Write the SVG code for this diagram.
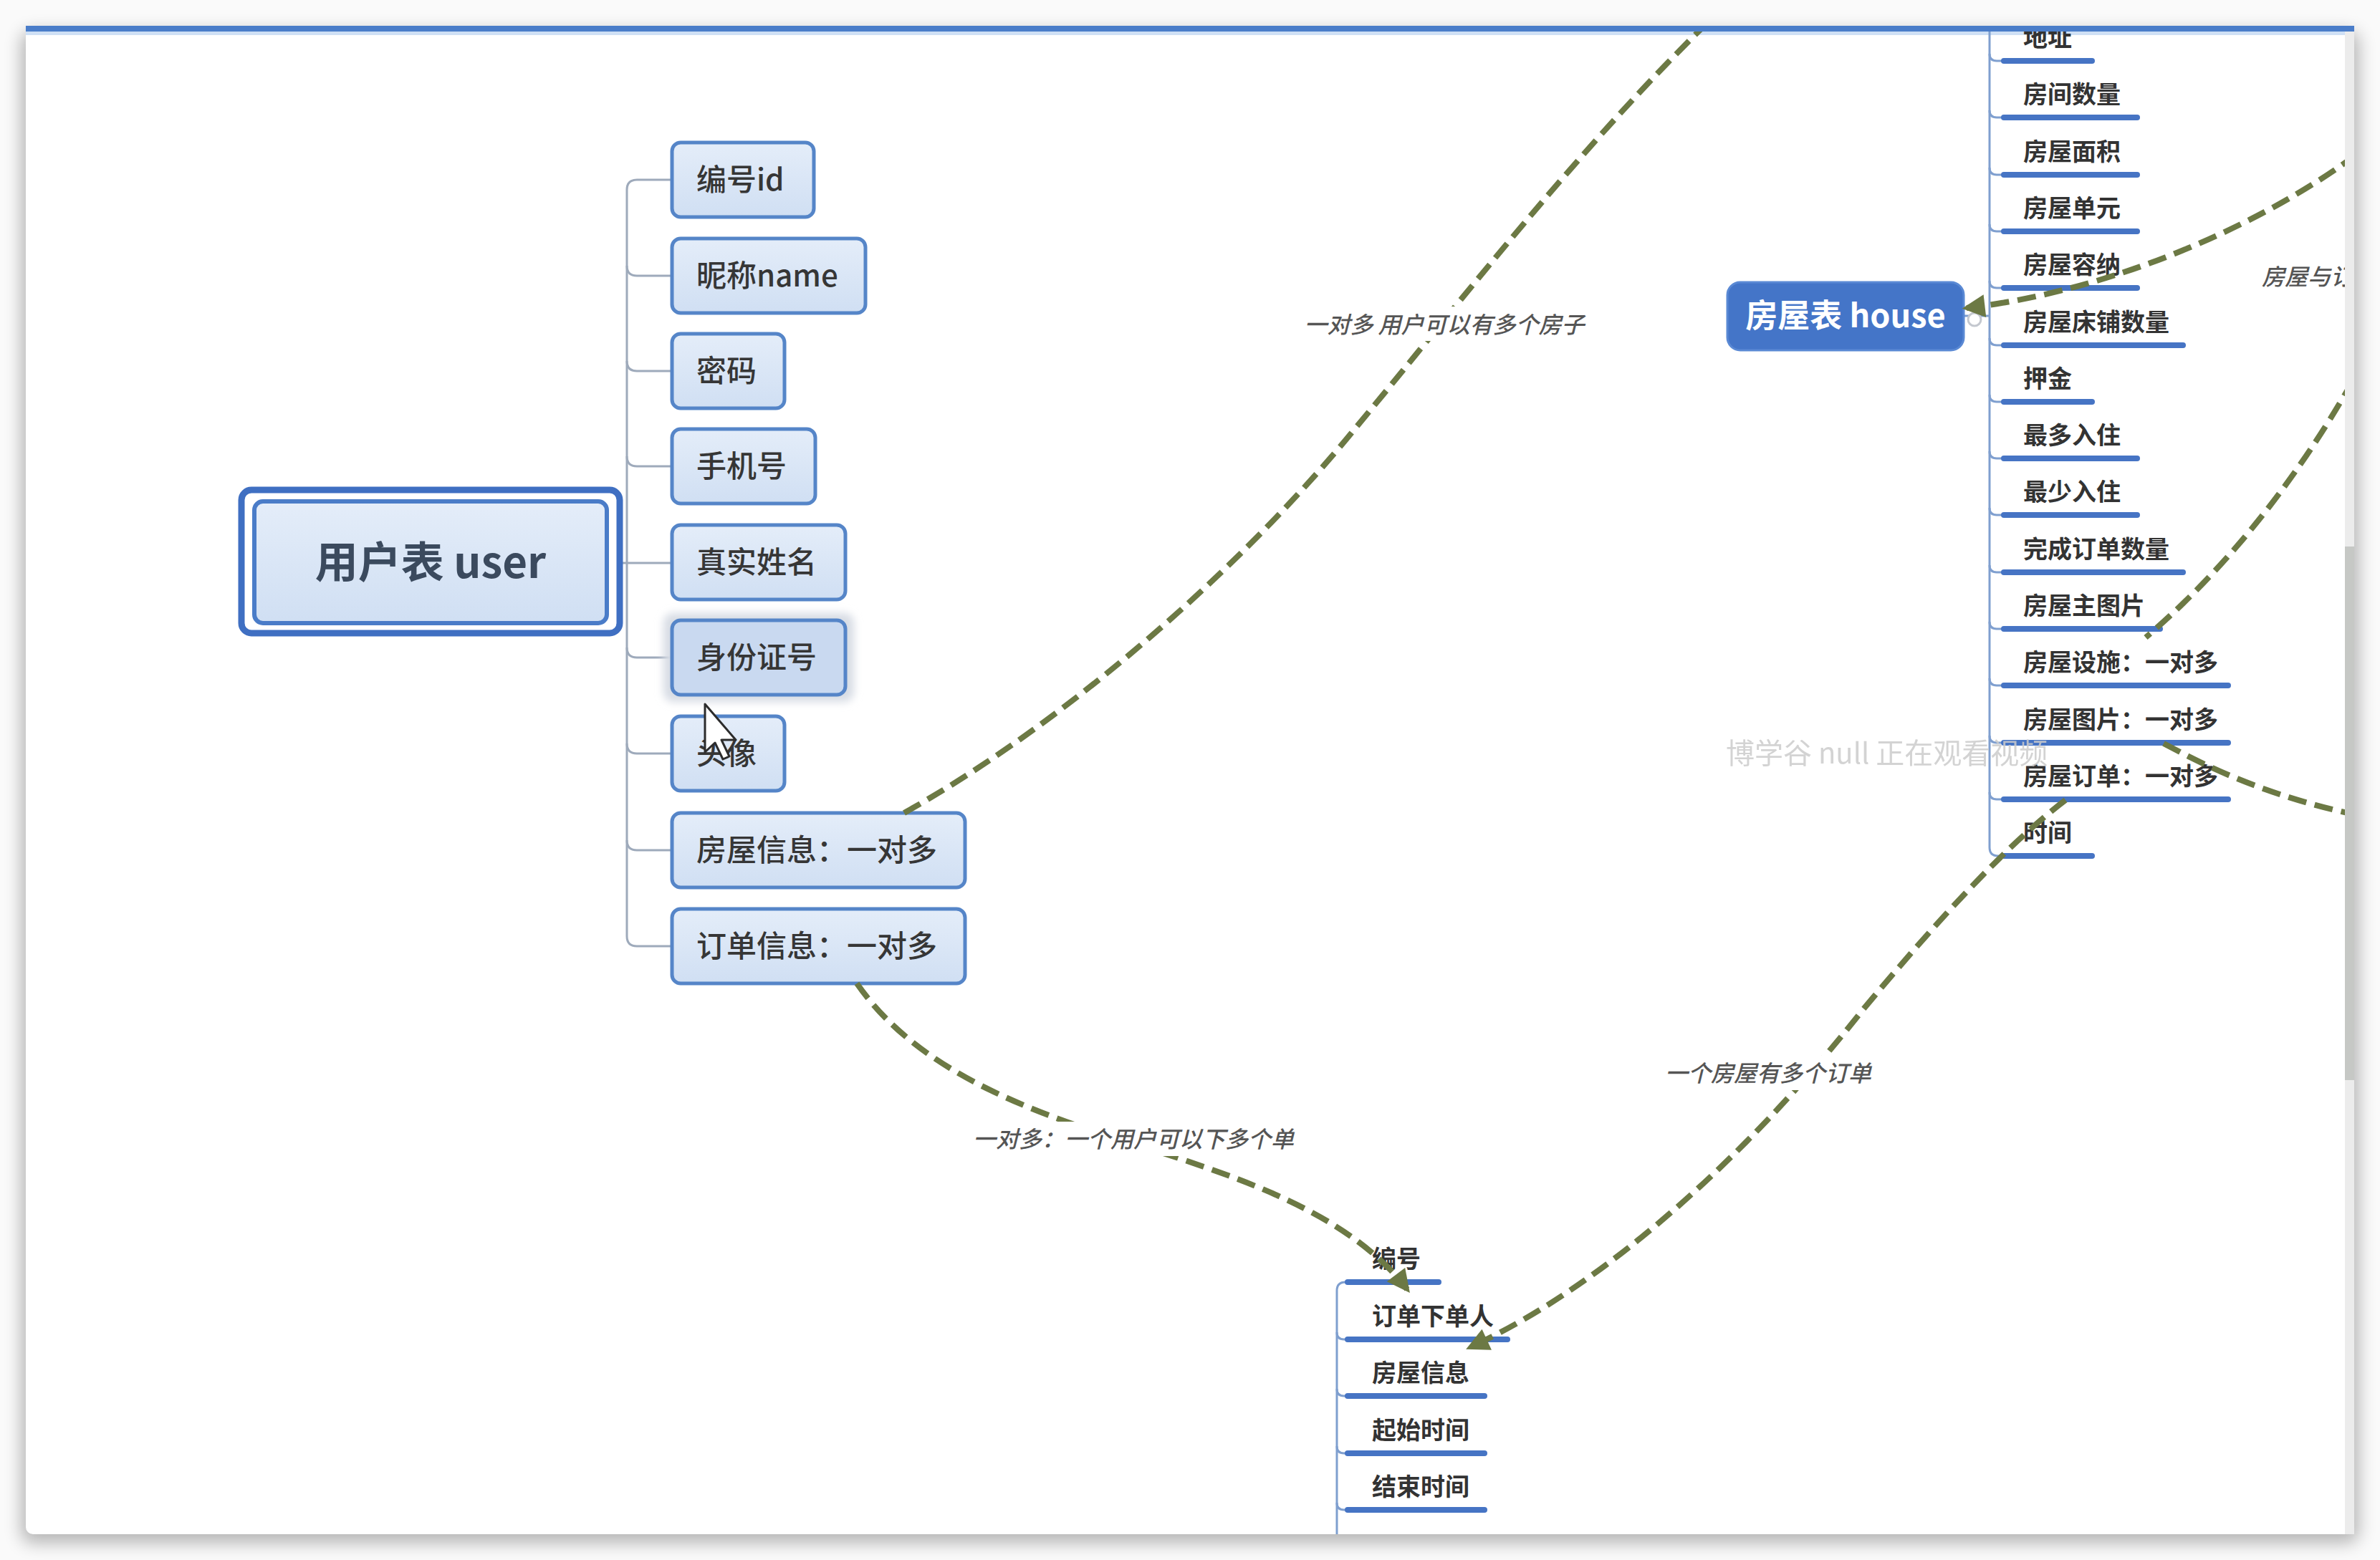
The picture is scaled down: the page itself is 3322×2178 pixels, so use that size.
<svg xmlns="http://www.w3.org/2000/svg" width="3322" height="2178" viewBox="0 0 3322 2178">
<style>
  text { font-family: "Noto Sans CJK SC", "Noto Sans", sans-serif; }
  .tree { fill: none; stroke: #9eaabb; stroke-width: 3; }
  .htree { fill: none; stroke: #7f9fcf; stroke-width: 3; }
  .ubox { fill: url(#ug); stroke: #5585c8; stroke-width: 5; }
  .utxt { font-size: 42px; font-weight: 500; fill: #363636; }
  .ul { stroke: #4674c4; stroke-width: 8; stroke-linecap: round; }
  .ctxt { font-size: 34px; font-weight: 700; fill: #333; }
  .rel { fill: none; stroke: #6c7944; stroke-width: 8; stroke-dasharray: 26 12; }
  .lbl { font-size: 32px; font-style: italic; font-weight: 500; fill: #555555; }
  .lblbg { fill: #ffffff; }
</style>
<defs>
  <linearGradient id="ug" x1="0" y1="0" x2="0" y2="1">
    <stop offset="0" stop-color="#e4edf9"/>
    <stop offset="1" stop-color="#d0dff3"/>
  </linearGradient>
  <filter id="sh" x="-5%" y="-5%" width="110%" height="110%">
    <feGaussianBlur stdDeviation="12"/>
  </filter>
  <filter id="glow" x="-20%" y="-20%" width="140%" height="140%">
    <feGaussianBlur stdDeviation="6"/>
  </filter>
  <marker id="arr" viewBox="0 0 10 10" refX="8" refY="5" markerWidth="34" markerHeight="32" markerUnits="userSpaceOnUse" orient="auto">
    <path d="M0,0 L10,5 L0,10 z" fill="#6c7944"/>
  </marker>
  <clipPath id="win">
    <rect x="36" y="44" width="3237" height="2098"/>
  </clipPath>
</defs>

<!-- window background -->
<rect x="0" y="0" width="3322" height="2178" fill="#fafafa"/>
<rect x="30" y="44" width="3262" height="2110" rx="14" fill="#000" opacity="0.28" filter="url(#sh)"/>
<rect x="36" y="36" width="3250" height="2106" rx="10" fill="#ffffff"/>
<rect x="36" y="36" width="3250" height="8" fill="#4a7dc9"/>
<rect x="36" y="44" width="3237" height="5" fill="#cfe0f5"/>
<rect x="3273" y="44" width="13" height="2098" fill="#ececec"/>
<rect x="3273" y="763" width="13" height="745" fill="#c6c8c5"/>

<g clip-path="url(#win)">
<!-- tree connectors -->
<g id="connectors">
  <path class="tree" d="M866,786 L875,786"/>
  <path class="tree" d="M938,251 L889,251 Q875,251 875,265 L875,1307 Q875,1321 889,1321 L938,1321"/>
  <path class="tree" d="M875,371 Q875,385 889,385 L938,385"/>
  <path class="tree" d="M875,504 Q875,518 889,518 L938,518"/>
  <path class="tree" d="M875,637 Q875,651 889,651 L938,651"/>
  <path class="tree" d="M875,786 L938,786"/>
  <path class="tree" d="M875,904 Q875,918 889,918 L938,918"/>
  <path class="tree" d="M875,1038 Q875,1052 889,1052 L938,1052"/>
  <path class="tree" d="M875,1173 Q875,1187 889,1187 L938,1187"/>

  <path class="htree" d="M2741,441 L2777,441"/>
  <path class="htree" d="M2777,30 L2777,1183 Q2777,1195 2789,1195 L2797,1195"/>
  <path class="htree" d="M2777,75 Q2777,85 2787,85 L2797,85"/>
  <path class="htree" d="M2777,154 Q2777,164 2787,164 L2797,164"/>
  <path class="htree" d="M2777,234 Q2777,244 2787,244 L2797,244"/>
  <path class="htree" d="M2777,313 Q2777,323 2787,323 L2797,323"/>
  <path class="htree" d="M2777,392 Q2777,402 2787,402 L2797,402"/>
  <path class="htree" d="M2777,472 Q2777,482 2787,482 L2797,482"/>
  <path class="htree" d="M2777,551 Q2777,561 2787,561 L2797,561"/>
  <path class="htree" d="M2777,630 Q2777,640 2787,640 L2797,640"/>
  <path class="htree" d="M2777,709 Q2777,719 2787,719 L2797,719"/>
  <path class="htree" d="M2777,789 Q2777,799 2787,799 L2797,799"/>
  <path class="htree" d="M2777,868 Q2777,878 2787,878 L2797,878"/>
  <path class="htree" d="M2777,947 Q2777,957 2787,957 L2797,957"/>
  <path class="htree" d="M2777,1027 Q2777,1037 2787,1037 L2797,1037"/>
  <path class="htree" d="M2777,1106 Q2777,1116 2787,1116 L2797,1116"/>

  <path class="htree" d="M1881,1790 L1878,1790 Q1866,1790 1866,1802 L1866,2160"/>
  <path class="htree" d="M1866,1860 Q1866,1870 1876,1870 L1881,1870"/>
  <path class="htree" d="M1866,1939 Q1866,1949 1876,1949 L1881,1949"/>
  <path class="htree" d="M1866,2019 Q1866,2029 1876,2029 L1881,2029"/>
  <path class="htree" d="M1866,2098 Q1866,2108 1876,2108 L1881,2108"/>
</g>

<!-- user table -->
<g id="user">
  <rect x="337" y="684" width="528" height="200" rx="14" fill="#ffffff" stroke="#3f6fc2" stroke-width="9"/>
  <rect x="355" y="700" width="492" height="170" rx="12" fill="url(#ug)" stroke="#4a7cc8" stroke-width="6"/>
  <text x="601" y="807" text-anchor="middle" font-size="60" font-weight="700" fill="#3b4a5e">用户表 user</text>
</g>
<g id="u-id"><rect class="ubox" x="938" y="199" width="198" height="104" rx="12"/><text class="utxt" x="972" y="266">编号id</text></g>
<g id="u-name"><rect class="ubox" x="938" y="333" width="270" height="104" rx="12"/><text class="utxt" x="972" y="400">昵称name</text></g>
<g id="u-pwd"><rect class="ubox" x="938" y="466" width="157" height="104" rx="12"/><text class="utxt" x="972" y="533">密码</text></g>
<g id="u-phone"><rect class="ubox" x="938" y="599" width="200" height="104" rx="12"/><text class="utxt" x="972" y="666">手机号</text></g>
<g id="u-realname"><rect class="ubox" x="938" y="733" width="242" height="104" rx="12"/><text class="utxt" x="972" y="800">真实姓名</text></g>
<g id="u-idcard">
  <rect x="926" y="856" width="266" height="124" rx="14" fill="#d7dce4" filter="url(#glow)"/>
  <rect class="ubox" x="938" y="866" width="242" height="104" rx="12" style="fill:#c9d9f0"/><text class="utxt" x="972" y="933">身份证号</text></g>
<g id="u-avatar"><rect class="ubox" x="938" y="1000" width="157" height="104" rx="12"/><text class="utxt" x="972" y="1067">头像</text></g>
<g id="u-house"><rect class="ubox" x="938" y="1135" width="409" height="104" rx="12"/><text class="utxt" x="972" y="1202">房屋信息：一对多</text></g>
<g id="u-order"><rect class="ubox" x="938" y="1269" width="409" height="104" rx="12"/><text class="utxt" x="972" y="1336">订单信息：一对多</text></g>

<!-- house table -->
<g id="house">
  <rect x="2411" y="394" width="330" height="95" rx="18" fill="#4475c8" stroke="#5a89d4" stroke-width="3"/>
  <text x="2576" y="457" text-anchor="middle" font-size="45" font-weight="700" fill="#ffffff">房屋表 house</text>
  <circle cx="2756" cy="446" r="9" fill="#ffffff" stroke="#c4c8cf" stroke-width="3"/>
</g>
<g id="house-fields">
  <g id="h-addr"><text class="ctxt" x="2824" y="65">地址</text><line class="ul" x1="2797" y1="85" x2="2920" y2="85"/></g>
  <g id="h-rooms"><text class="ctxt" x="2824" y="144">房间数量</text><line class="ul" x1="2797" y1="164" x2="2983" y2="164"/></g>
  <g id="h-area"><text class="ctxt" x="2824" y="224">房屋面积</text><line class="ul" x1="2797" y1="244" x2="2983" y2="244"/></g>
  <g id="h-unit"><text class="ctxt" x="2824" y="303">房屋单元</text><line class="ul" x1="2797" y1="323" x2="2983" y2="323"/></g>
  <g id="h-cap"><text class="ctxt" x="2824" y="382">房屋容纳</text><line class="ul" x1="2797" y1="402" x2="2983" y2="402"/></g>
  <g id="h-beds"><text class="ctxt" x="2824" y="462">房屋床铺数量</text><line class="ul" x1="2797" y1="482" x2="3047" y2="482"/></g>
  <g id="h-deposit"><text class="ctxt" x="2824" y="541">押金</text><line class="ul" x1="2797" y1="561" x2="2920" y2="561"/></g>
  <g id="h-max"><text class="ctxt" x="2824" y="620">最多入住</text><line class="ul" x1="2797" y1="640" x2="2983" y2="640"/></g>
  <g id="h-min"><text class="ctxt" x="2824" y="699">最少入住</text><line class="ul" x1="2797" y1="719" x2="2983" y2="719"/></g>
  <g id="h-done"><text class="ctxt" x="2824" y="779">完成订单数量</text><line class="ul" x1="2797" y1="799" x2="3047" y2="799"/></g>
  <g id="h-mainpic"><text class="ctxt" x="2824" y="858">房屋主图片</text><line class="ul" x1="2797" y1="878" x2="3015" y2="878"/></g>
  <g id="h-facility"><text class="ctxt" x="2824" y="937">房屋设施：一对多</text><line class="ul" x1="2797" y1="957" x2="3110" y2="957"/></g>
  <g id="h-pics"><text class="ctxt" x="2824" y="1017">房屋图片：一对多</text><line class="ul" x1="2797" y1="1037" x2="3110" y2="1037"/></g>
  <g id="h-orders"><text class="ctxt" x="2824" y="1096">房屋订单：一对多</text><line class="ul" x1="2797" y1="1116" x2="3110" y2="1116"/></g>
  <g id="h-time"><text class="ctxt" x="2824" y="1175">时间</text><line class="ul" x1="2797" y1="1195" x2="2920" y2="1195"/></g>
</g>

<!-- order table -->
<g id="order-fields">
  <g id="o-no"><text class="ctxt" x="1915" y="1770">编号</text><line class="ul" x1="1881" y1="1790" x2="2008" y2="1790"/></g>
  <g id="o-user"><text class="ctxt" x="1915" y="1850">订单下单人</text><line class="ul" x1="1881" y1="1870" x2="2104" y2="1870"/></g>
  <g id="o-house"><text class="ctxt" x="1915" y="1929">房屋信息</text><line class="ul" x1="1881" y1="1949" x2="2072" y2="1949"/></g>
  <g id="o-start"><text class="ctxt" x="1915" y="2009">起始时间</text><line class="ul" x1="1881" y1="2029" x2="2072" y2="2029"/></g>
  <g id="o-end"><text class="ctxt" x="1915" y="2088">结束时间</text><line class="ul" x1="1881" y1="2108" x2="2072" y2="2108"/></g>
</g>

<!-- relation connectors -->
<g id="relations">
  <path class="rel" d="M1262,1135 C1520,990 1760,760 1890,600 C2040,420 2200,210 2395,20"/>
  <path class="rel" d="M1196,1373 C1270,1480 1400,1540 1560,1590 C1720,1640 1880,1690 1964,1800" marker-end="url(#arr)"/>
  <path class="rel" d="M2883,1117 C2800,1180 2700,1290 2600,1410 C2450,1600 2250,1790 2052,1881" marker-end="url(#arr)"/>
  <path class="rel" d="M3290,215 C3170,305 2960,405 2745,430" marker-end="url(#arr)"/>
  <path class="rel" d="M3285,530 C3200,680 3100,800 2995,890"/>
  <path class="rel" d="M3020,1038 C3080,1070 3160,1110 3290,1138"/>

  <rect class="lblbg" x="1810" y="428" width="412" height="48"/>
  <text class="lbl" x="2016" y="465" text-anchor="middle">一对多 用户可以有多个房子</text>
  <rect class="lblbg" x="1350" y="1566" width="464" height="48"/>
  <text class="lbl" x="1582" y="1602" text-anchor="middle">一对多：一个用户可以下多个单</text>
  <rect class="lblbg" x="2318" y="1474" width="300" height="48"/>
  <text class="lbl" x="2468" y="1510" text-anchor="middle">一个房屋有多个订单</text>
  <rect class="lblbg" x="3150" y="364" width="130" height="46"/>
  <text class="lbl" x="3157" y="398">房屋与订</text>
</g>

<!-- overlay watermark -->
<text x="2409" y="1066" font-size="40" fill="#cccccc" opacity="0.85">博学谷 null 正在观看视频</text>
</g>

<!-- mouse cursor -->
<path d="M984,983 L984,1050 L998,1037 L1009,1060 L1018,1056 L1007,1033 L1027,1033 Z" fill="#ffffff" stroke="#2c2c2c" stroke-width="3" stroke-linejoin="round"/>
</svg>
